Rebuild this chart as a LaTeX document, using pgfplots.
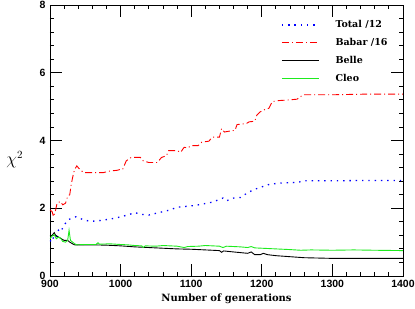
\documentclass[border=0pt]{standalone}
\usepackage{fontspec}
\setmainfont{DejaVu Serif}
\setsansfont{Liberation Sans}
\usepackage{pgfplots}
\pgfplotsset{compat=1.18}
\definecolor{cleo}{RGB}{30,235,30}
\begin{document}
\begin{tikzpicture}
\begin{axis}[
  scale only axis,
  width=353pt, height=271pt,
  xmin=900, xmax=1400, ymin=0, ymax=8,
  xtick={900,1000,1100,1200,1300,1400},
  ytick={0,2,4,6,8},
  minor x tick num=4, minor y tick num=4,
  tick align=inside,
  major tick length=12pt, minor tick length=4pt,
  tick style={black, line width=0.9pt},
  axis line style={line width=0.9pt},
  /pgf/number format/assume math mode=true,
  /pgf/number format/1000 sep={},
  ticklabel style={font=\sffamily\bfseries\fontsize{10.5}{12}\selectfont},
  xticklabel style={yshift=-1pt},
  yticklabel style={xshift=-1pt},
  xlabel={\bfseries Number of generations},
  xlabel style={font=\fontsize{10}{11}\selectfont, at={(axis description cs:0.5,-0.085)}, anchor=center},
  ylabel={$\chi^2$},
  ylabel style={at={(axis description cs:-0.1,0.43)}, anchor=center, rotate=-90, font=\fontsize{16}{18}\selectfont},
  legend style={draw=none, fill=none, at={(axis description cs:0.646,0.955)}, anchor=north west,
    font=\bfseries\fontsize{9.5}{11}\selectfont, row sep=7pt,
    nodes={inner sep=1pt, text height=7pt, text depth=2pt},
    /tikz/every odd column/.append style={column sep=15pt}},
  legend cell align=left,
  legend image code/.code={\draw[#1] (0pt,0pt) -- (37pt,0pt);},
]
\addplot[blue, line width=1.3pt, dash pattern=on 1.4pt off 4.9pt] coordinates {
(900,1.05)(903,1.0)(905,1.15)(908,1.1)(912,1.35)(915,1.3)(920,1.5)(925,1.65)(930,1.7)(937,1.75)(945,1.68)(955,1.62)(965,1.62)(975,1.65)(985,1.68)(995,1.72)(1000,1.75)(1010,1.8)(1020,1.87)(1030,1.82)(1040,1.8)(1050,1.85)(1060,1.9)(1070,1.95)(1080,2.03)(1090,2.05)(1100,2.07)(1110,2.1)(1120,2.14)(1130,2.18)(1140,2.26)(1145,2.3)(1150,2.22)(1160,2.3)(1170,2.32)(1180,2.46)(1190,2.56)(1200,2.63)(1210,2.7)(1220,2.73)(1230,2.75)(1250,2.76)(1260,2.81)(1300,2.81)(1350,2.82)(1400,2.82)
};
\addlegendentry{Total /12}
\addplot[red, line width=0.9pt, dash pattern=on 7pt off 3pt on 1pt off 3pt] coordinates {
(900,1.95)(903,1.9)(905,1.75)(908,1.95)(910,2.15)(915,2.2)(918,2.1)(922,2.15)(925,2.35)(928,2.4)(930,2.7)(933,3.0)(935,3.15)(938,3.25)(942,3.15)(948,3.05)(960,3.05)(975,3.05)(985,3.1)(995,3.12)(1000,3.15)(1003,3.15)(1008,3.4)(1015,3.5)(1028,3.5)(1032,3.4)(1040,3.35)(1052,3.35)(1058,3.5)(1065,3.55)(1068,3.7)(1080,3.7)(1085,3.65)(1090,3.8)(1095,3.78)(1100,3.85)(1110,3.85)(1115,3.95)(1125,3.98)(1130,4.1)(1140,4.1)(1143,4.35)(1147,4.25)(1155,4.28)(1162,4.3)(1165,4.47)(1178,4.5)(1182,4.55)(1190,4.57)(1193,4.75)(1198,4.85)(1205,4.92)(1210,4.95)(1215,5.15)(1225,5.18)(1240,5.2)(1250,5.22)(1255,5.3)(1260,5.35)(1300,5.35)(1350,5.37)(1400,5.37)
};
\addlegendentry{Babar /16}
\addplot[black, line width=0.9pt] coordinates {
(900,1.18)(903,1.2)(906,1.28)(908,1.2)(912,1.15)(916,1.1)(920,1.05)(925,1.05)(928,1.0)(932,0.95)(935,0.92)(940,0.92)(960,0.92)(980,0.91)(1000,0.89)(1020,0.86)(1040,0.84)(1060,0.82)(1080,0.8)(1100,0.79)(1120,0.77)(1140,0.75)(1143,0.7)(1146,0.74)(1160,0.71)(1180,0.67)(1185,0.71)(1190,0.63)(1198,0.63)(1202,0.67)(1208,0.63)(1220,0.6)(1240,0.57)(1260,0.54)(1300,0.52)(1350,0.52)(1400,0.52)
};
\addlegendentry{Belle}
\addplot[cleo, line width=0.9pt] coordinates {
(900,1.1)(903,1.18)(906,1.22)(909,1.1)(912,1.15)(915,1.12)(918,1.02)(922,1.0)(925,1.05)(927,1.35)(929,1.05)(932,1.0)(935,0.95)(938,0.92)(950,0.93)(965,0.93)(968,0.98)(970,0.94)(985,0.95)(1000,0.93)(1010,0.92)(1020,0.9)(1030,0.89)(1032,0.84)(1035,0.89)(1050,0.88)(1060,0.9)(1080,0.88)(1090,0.84)(1095,0.87)(1110,0.88)(1120,0.9)(1140,0.88)(1145,0.84)(1150,0.88)(1170,0.86)(1180,0.84)(1185,0.87)(1190,0.83)(1200,0.82)(1210,0.81)(1220,0.8)(1240,0.78)(1255,0.76)(1270,0.77)(1300,0.76)(1330,0.77)(1360,0.76)(1400,0.75)
};
\addlegendentry{Cleo}
\end{axis}
\pgfresetboundingbox
\path (-50pt,-32pt) rectangle (365pt,276pt);
\end{tikzpicture}
\end{document}
